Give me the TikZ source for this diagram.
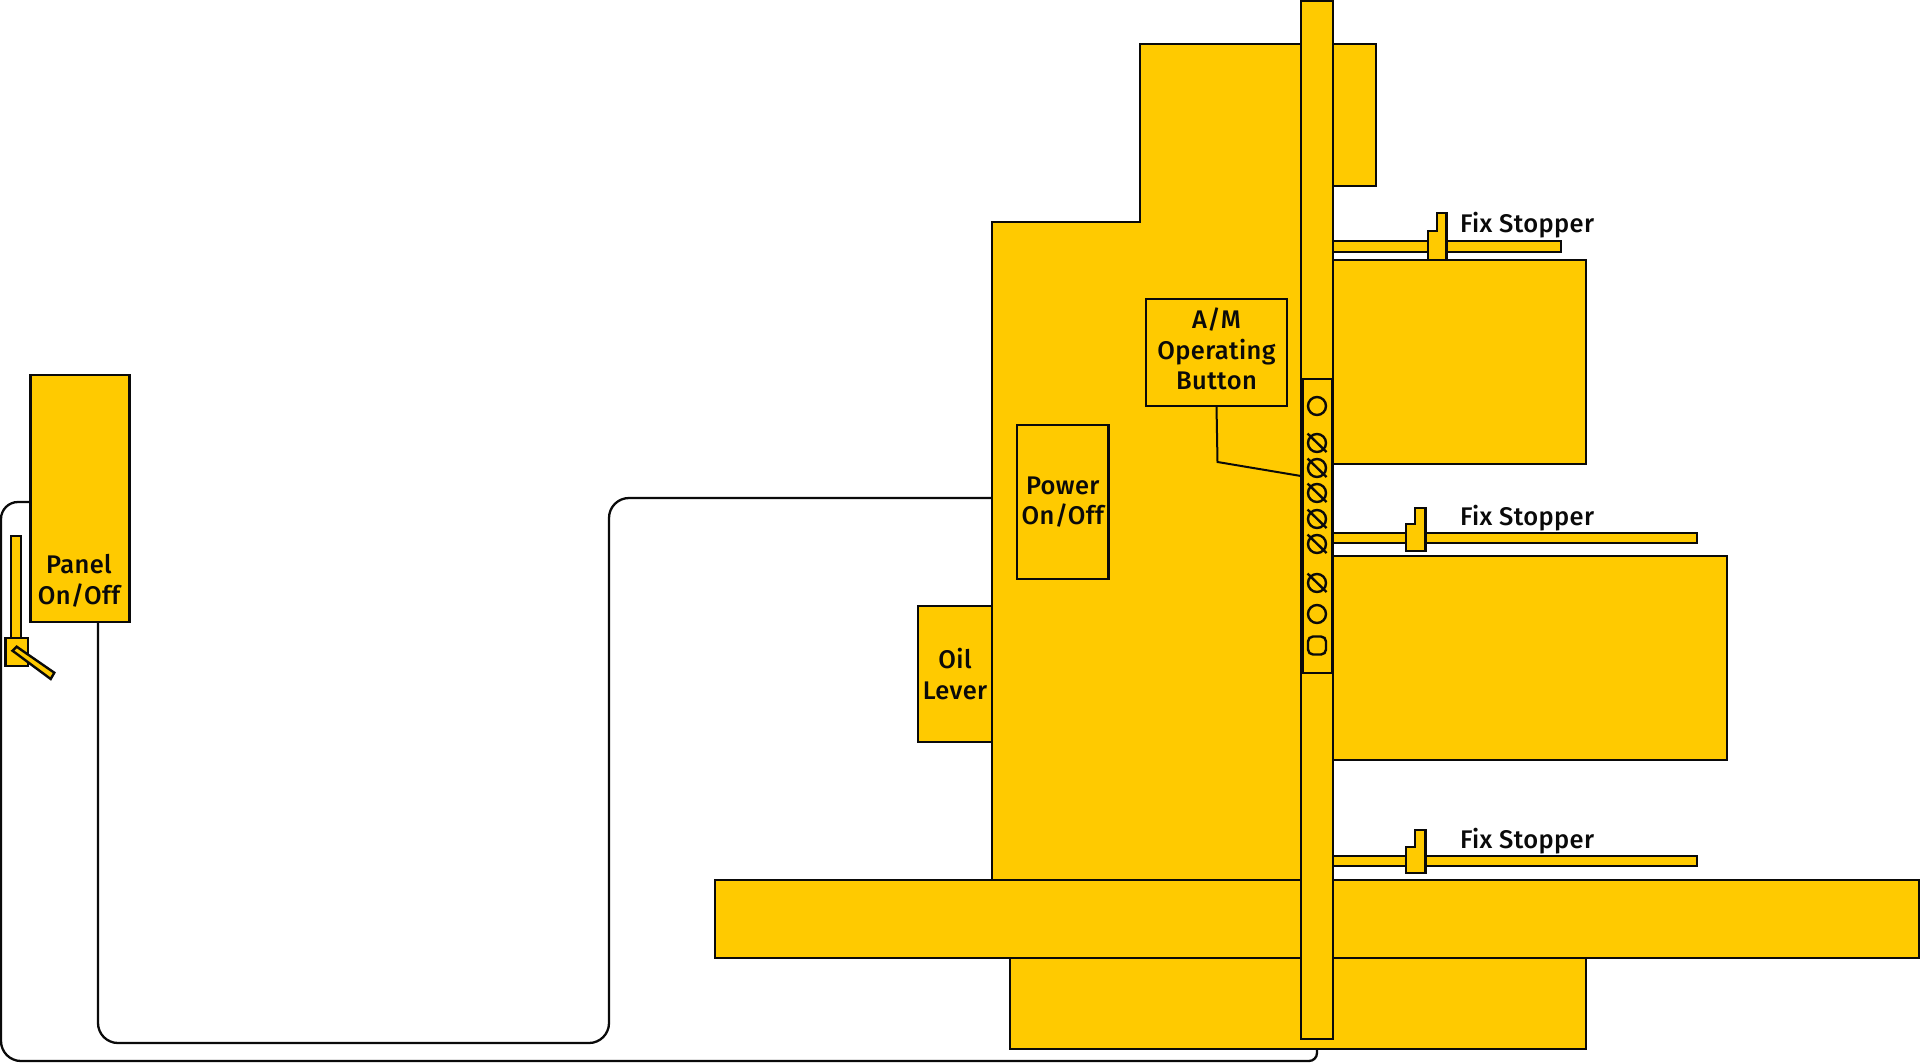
\documentclass[tikz,border=0pt]{standalone}
\usepackage{fontspec}
\setmainfont[LetterSpace=1.5]{Fira Sans Medium}
\usetikzlibrary{calc}
\definecolor{amber}{HTML}{FFCA00}
\definecolor{ink}{HTML}{0A0A0A}
\tikzset{
  part/.style={draw=ink,fill=amber,line width=2.4pt,line join=miter},
  block/.style={part,inner sep=0pt,outer sep=0pt,align=center,font=\fontsize{25.5}{30.5}\selectfont,text=ink},
  wire/.style={draw=ink,line width=2.3pt},
  lab/.style={inner sep=0pt,outer sep=0pt,anchor=base west,font=\fontsize{25.5}{30.5}\selectfont,text=ink},
  boxtext/.style={inner sep=0pt,align=center,font=\fontsize{25.5}{30.5}\selectfont,text=ink},
  screw/.style={draw=ink,line width=2.4pt,fill=none}
}
\newcommand{\blk}[6]{%
  \pgfmathsetmacro{\blkw}{#4-#2}\pgfmathsetmacro{\blkh}{#5-#3}%
  \pgfmathsetmacro{\blkx}{(#4+#2)/2}\pgfmathsetmacro{\blky}{(#5+#3)/2}%
  \node[block,minimum width=\blkw pt,minimum height=\blkh pt] (#1) at (\blkx,\blky) {#6};}
\begin{document}
\begin{tikzpicture}[x=1pt,y=-1pt]
\useasboundingbox (0,0) rectangle (1920,1063);
% wires
\coordinate (w1a) at (30,502);
\coordinate (w1b) at (1,502);
\coordinate (w1c) at (1,1061);
\coordinate (w1d) at (1317,1061);
\coordinate (w2a) at (98,622);
\coordinate (w2b) at (98,1043);
\coordinate (w2c) at (609,1043);
\coordinate (w2d) at (609,498);
% body
\node[inner sep=0pt,outer sep=0pt,minimum size=0pt] (bodyport) at (992,498) {};
\draw[part] (992,880) -- (992,222) -- (1140,222) -- (1140,44) -- (1376,44) -- (1376,186) -- (1317,186) -- (1317,880) -- cycle;
\blk{lower}{1010}{958}{1586}{1049}{}
\blk{bed}{715}{880}{1919}{958}{}
\blk{upperbox}{1333}{260}{1586}{464}{}
\blk{midbox}{1333}{556}{1727}{760}{}
% stopper rods
\blk{rodA}{1333}{241}{1561}{252}{}
\blk{rodB}{1333}{533}{1697}{543}{}
\blk{rodC}{1333}{856}{1697}{866}{}
\draw[part] (1428,260) -- (1428,231) -- (1437,231) -- (1437,213) -- (1446.5,213) -- (1446.5,260) -- cycle;
\draw[part] (1406,551) -- (1406,524) -- (1415,524) -- (1415,508) -- (1425.5,508) -- (1425.5,551) -- cycle;
\draw[part] (1406,873) -- (1406,847) -- (1415,847) -- (1415,830) -- (1425.5,830) -- (1425.5,873) -- cycle;
% column
\blk{column}{1301}{1}{1333}{1039}{}
\blk{strip}{1302.5}{379}{1332}{673}{}
\draw[ink,line width=3.4pt] (strip.north west) -- (strip.south west);
% labels in boxes
\blk{am}{1146}{299}{1287}{406}{}
\node[boxtext] (amtext) at (1216.5,349) {A/M\\Operating\\Button};
\blk{power}{1017}{425}{1108.5}{579}{Power\\On/Off}
\blk{oil}{918}{606}{992}{742}{Oil\\Lever}
% panel
\blk{panel}{30.5}{375}{129.5}{622}{}
\node[boxtext,anchor=base] (paneltext) at (79,604) {Panel\\On/Off};
\blk{swrod}{11}{536}{21}{638}{}
\blk{swbox}{5.5}{638}{28}{666}{}
\draw[part] (12.5,650.7) -- (16.7,646.7) -- (54.3,672.7) -- (50.7,679) -- cycle;
% connectors
\draw[wire,rounded corners=17pt] (panel.west |- w1a) -- (w1b) [rounded corners=20pt] -- (w1c) [rounded corners=8pt] -- (w1d) [sharp corners] -- (lower.south -| w1d);
\draw[wire,rounded corners=20pt] (panel.south -| w2a) -- (w2b) -- (w2c) -- (w2d) -- (bodyport);
\coordinate (amj) at (1216.5,407);
\coordinate (amk) at (1217.5,462);
\coordinate (amend) at (1301,476);
\draw[wire,line width=2pt] (am.south -| amj) -- (amk) -- (amend -| column.west);
% screws
\foreach \n/\yy in {c1/406,c2/614}{\node[circle,screw,minimum size=18pt,inner sep=0pt] (\n) at (1317,\yy) {};}
\foreach \n/\yy in {s1/443,s2/468,s3/493,s4/519,s5/544,s6/583}{
  \node[circle,screw,minimum size=18pt,inner sep=0pt] (\n) at (1317,\yy) {};
  \draw[screw] (\n.center) ++(-9.5,-9.5) -- ++(19,18.5);}
\node[screw,rounded corners=5pt,minimum size=18pt,inner sep=0pt] (sq) at (1317,645.5) {};
% stopper labels
\node[lab] (fa) at (1460,232) {Fix Stopper};
\node[lab] (fb) at (1460,525) {Fix Stopper};
\node[lab] (fc) at (1460,848) {Fix Stopper};
\end{tikzpicture}
\end{document}
